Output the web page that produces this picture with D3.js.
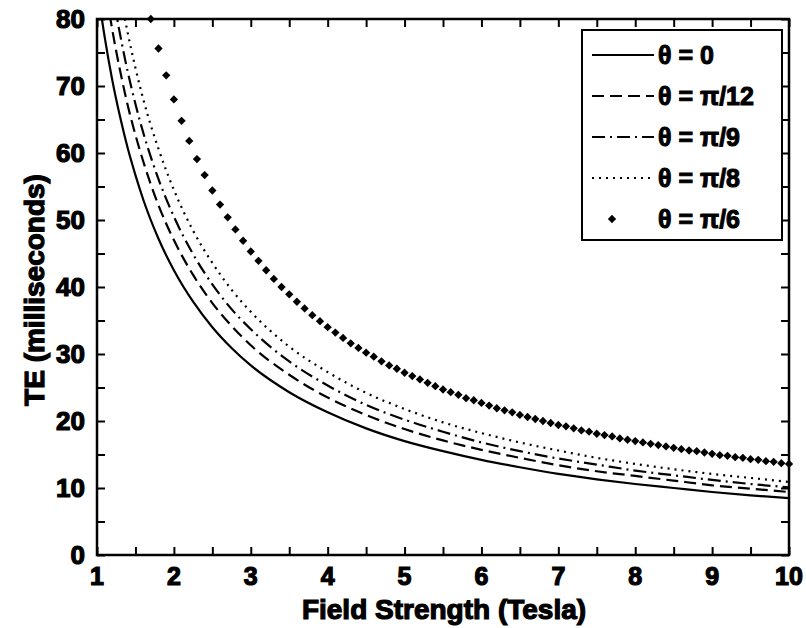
<!DOCTYPE html>
<html>
<head>
<meta charset="utf-8">
<script src="https://cdn.jsdelivr.net/npm/d3@7"></script>
<style>
  body { margin: 0; background: #fff; }
  text { font-family: "Liberation Sans", Arial, sans-serif; font-weight: bold; fill: #000; stroke: #000; }
</style>
</head>
<body>
<svg id="chart"></svg>
<script>
// field strength sample points (Tesla) for the line series
const fieldPoints = [1.0, 1.1, 1.2, 1.3, 1.4, 1.5, 1.6, 1.8, 2.0, 2.25, 2.5, 2.75, 3.0, 3.5, 4.0, 4.5, 5.0, 5.5, 6.0, 6.5, 7.0, 7.5, 8.0, 8.5, 9.0, 9.5, 10.0];

// TE (ms)
const teTheta0   = [85.0, 77.3, 70.8, 65.4, 60.7, 56.7, 53.1, 47.2, 42.5, 37.8, 34.0, 30.9, 28.3, 24.3, 21.3, 18.9, 17.0, 15.5, 14.2, 13.1, 12.1, 11.3, 10.6, 10.0, 9.4, 8.9, 8.5];
const teThetaP12 = [94.0, 85.5, 78.3, 72.3, 67.1, 62.7, 58.8, 52.2, 47.0, 41.8, 37.6, 34.2, 31.3, 26.9, 23.5, 20.9, 18.8, 17.1, 15.7, 14.5, 13.4, 12.5, 11.8, 11.1, 10.4, 9.9, 9.4];
const teThetaP9  = [101.0, 91.8, 84.2, 77.7, 72.1, 67.3, 63.1, 56.1, 50.5, 44.9, 40.4, 36.7, 33.7, 28.9, 25.3, 22.4, 20.2, 18.4, 16.8, 15.5, 14.4, 13.5, 12.6, 11.9, 11.2, 10.6, 10.1];
const teThetaP8  = [109.0, 99.1, 90.8, 83.8, 77.9, 72.7, 68.1, 60.6, 54.5, 48.4, 43.6, 39.6, 36.3, 31.1, 27.3, 24.2, 21.8, 19.8, 18.2, 16.8, 15.6, 14.5, 13.6, 12.8, 12.1, 11.5, 10.9];

// θ = π/6 markers, one every 0.1 T from 1.7 to 10
const diamondField = [1.7, 1.8, 1.9, 2.0, 2.1, 2.2, 2.3, 2.4, 2.5, 2.6, 2.7, 2.8, 2.9, 3.0, 3.1, 3.2, 3.3, 3.4, 3.5, 3.6, 3.7, 3.8, 3.9, 4.0, 4.1, 4.2, 4.3, 4.4, 4.5, 4.6, 4.7, 4.8, 4.9, 5.0, 5.1, 5.2, 5.3, 5.4, 5.5, 5.6, 5.7, 5.8, 5.9, 6.0, 6.1, 6.2, 6.3, 6.4, 6.5, 6.6, 6.7, 6.8, 6.9, 7.0, 7.1, 7.2, 7.3, 7.4, 7.5, 7.6, 7.7, 7.8, 7.9, 8.0, 8.1, 8.2, 8.3, 8.4, 8.5, 8.6, 8.7, 8.8, 8.9, 9.0, 9.1, 9.2, 9.3, 9.4, 9.5, 9.6, 9.7, 9.8, 9.9, 10.0];
const teThetaP6 = [80.0, 75.6, 71.6, 68.0, 64.8, 61.8, 59.1, 56.7, 54.4, 52.3, 50.4, 48.6, 46.9, 45.3, 43.9, 42.5, 41.2, 40.0, 38.9, 37.8, 36.8, 35.8, 34.9, 34.0, 33.2, 32.4, 31.6, 30.9, 30.2, 29.6, 28.9, 28.3, 27.8, 27.2, 26.7, 26.2, 25.7, 25.2, 24.7, 24.3, 23.9, 23.4, 23.1, 22.7, 22.3, 21.9, 21.6, 21.3, 20.9, 20.6, 20.3, 20.0, 19.7, 19.4, 19.2, 18.9, 18.6, 18.4, 18.1, 17.9, 17.7, 17.4, 17.2, 17.0, 16.8, 16.6, 16.4, 16.2, 16.0, 15.8, 15.6, 15.5, 15.3, 15.1, 14.9, 14.8, 14.6, 14.5, 14.3, 14.2, 14.0, 13.9, 13.7, 13.6];

const legendLabels = ["θ = 0", "θ = π/12", "θ = π/9", "θ = π/8", "θ  = π/6"];
const xTicks = [1, 2, 3, 4, 5, 6, 7, 8, 9, 10];
const yTicks = [0, 10, 20, 30, 40, 50, 60, 70, 80];

const config = {
  width: 806,
  height: 628,
  margin: { top: 19, right: 17, bottom: 73, left: 97 }
};

const innerW = config.width - config.margin.left - config.margin.right;
const innerH = config.height - config.margin.top - config.margin.bottom;

const svg = d3.select('#chart')
  .attr('width', config.width)
  .attr('height', config.height);

const chart = svg.append('g')
  .attr('transform', `translate(${config.margin.left},${config.margin.top})`);

const xScale = d3.scaleLinear().domain([1, 10]).range([0, innerW]);
const yScale = d3.scaleLinear().domain([0, 80]).range([innerH, 0]);

// clip so curves stop at the frame
chart.append('clipPath').attr('id', 'plot-clip')
  .append('rect').attr('width', innerW).attr('height', innerH);

const lineSeries = [
  { values: teTheta0,   dash: null },
  { values: teThetaP12, dash: '12,6' },
  { values: teThetaP9,  dash: '13,5,2,5' },
  { values: teThetaP8,  dash: '2,5' }
];

const line = d3.line()
  .x(d => xScale(d[0]))
  .y(d => yScale(d[1]))
  .curve(d3.curveMonotoneX);

const plot = chart.append('g').attr('clip-path', 'url(#plot-clip)');

plot.selectAll('.series')
  .data(lineSeries)
  .join('path')
  .attr('class', 'series')
  .attr('fill', 'none')
  .attr('stroke', '#000')
  .attr('stroke-width', 2.2)
  .attr('stroke-dasharray', d => d.dash)
  .attr('d', d => line(fieldPoints.map((b, i) => [b, d.values[i]])));

const diamond = d3.symbol().type(d3.symbolDiamond2).size(44);

chart.selectAll('.marker')
  .data(diamondField.map((b, i) => [b, teThetaP6[i]]))
  .join('path')
  .attr('class', 'marker')
  .attr('transform', d => `translate(${xScale(d[0])},${yScale(d[1])})`)
  .attr('d', diamond)
  .attr('fill', '#000');

// axes: inward ticks on all four sides, minor ticks every half step
const xMinor = d3.range(1, 10.01, 0.5);
const yMinor = d3.range(0, 80.01, 5);
const tickLen = 8;

const bottomAxis = chart.append('g')
  .attr('transform', `translate(0,${innerH})`)
  .call(d3.axisBottom(xScale).tickValues(xMinor).tickSize(-tickLen).tickFormat(''));
const topAxis = chart.append('g')
  .call(d3.axisTop(xScale).tickValues(xMinor).tickSize(-tickLen).tickFormat(''));
const leftAxis = chart.append('g')
  .call(d3.axisLeft(yScale).tickValues(yMinor).tickSize(-tickLen).tickFormat(''));
const rightAxis = chart.append('g')
  .attr('transform', `translate(${innerW},0)`)
  .call(d3.axisRight(yScale).tickValues(yMinor).tickSize(-tickLen).tickFormat(''));

[bottomAxis, topAxis, leftAxis, rightAxis].forEach(g => {
  g.select('.domain').remove();
  g.selectAll('.tick line').attr('stroke', '#000').attr('stroke-width', 2);
});

// frame
chart.append('rect')
  .attr('width', innerW)
  .attr('height', innerH)
  .attr('fill', 'none')
  .attr('stroke', '#000')
  .attr('stroke-width', 2.5);

// tick labels
chart.selectAll('.x-label')
  .data(xTicks)
  .join('text')
  .attr('class', 'x-label')
  .attr('x', d => xScale(d))
  .attr('y', innerH + 30)
  .attr('text-anchor', 'middle')
  .style('font-size', '25px')
  .style('stroke-width', 1.2)
  .text(d => d);

chart.selectAll('.y-label')
  .data(yTicks)
  .join('text')
  .attr('class', 'y-label')
  .attr('x', -12)
  .attr('y', d => yScale(d))
  .attr('dy', '0.35em')
  .attr('text-anchor', 'end')
  .style('font-size', '26px')
  .style('stroke-width', 1.2)
  .text(d => d);

// axis titles
svg.append('text')
  .attr('x', 444)
  .attr('y', 619)
  .attr('text-anchor', 'middle')
  .style('font-size', '28px')
  .style('stroke-width', 1.2)
  .text('Field Strength (Tesla)');

svg.append('text')
  .attr('transform', 'translate(44,290) rotate(-90)')
  .attr('text-anchor', 'middle')
  .style('font-size', '28px')
  .style('stroke-width', 1.2)
  .text('TE (milliseconds)');

// legend
const legend = svg.append('g').attr('transform', 'translate(582,30)');
legend.append('rect')
  .attr('width', 200)
  .attr('height', 210)
  .attr('fill', '#fff')
  .attr('stroke', '#000')
  .attr('stroke-width', 2);

const legendDash = [null, '12,6', '13,5,2,5', '2,5', 'marker'];
const rows = legend.selectAll('.legend-row')
  .data(legendLabels)
  .join('g')
  .attr('class', 'legend-row')
  .attr('transform', (d, i) => `translate(0,${25 + i * 41})`);

rows.each(function(d, i) {
  const row = d3.select(this);
  if (legendDash[i] === 'marker') {
    row.append('path')
      .attr('transform', 'translate(30,0)')
      .attr('d', diamond)
      .attr('fill', '#000');
  } else {
    row.append('line')
      .attr('x1', 10).attr('x2', 72)
      .attr('stroke', '#000')
      .attr('stroke-width', 2.2)
      .attr('stroke-dasharray', legendDash[i]);
  }
  row.append('text')
    .attr('x', 76)
    .attr('dy', '0.35em')
    .style('font-size', '25px')
    .style('stroke-width', 1)
    .text(d);
});
</script>
</body>
</html>
